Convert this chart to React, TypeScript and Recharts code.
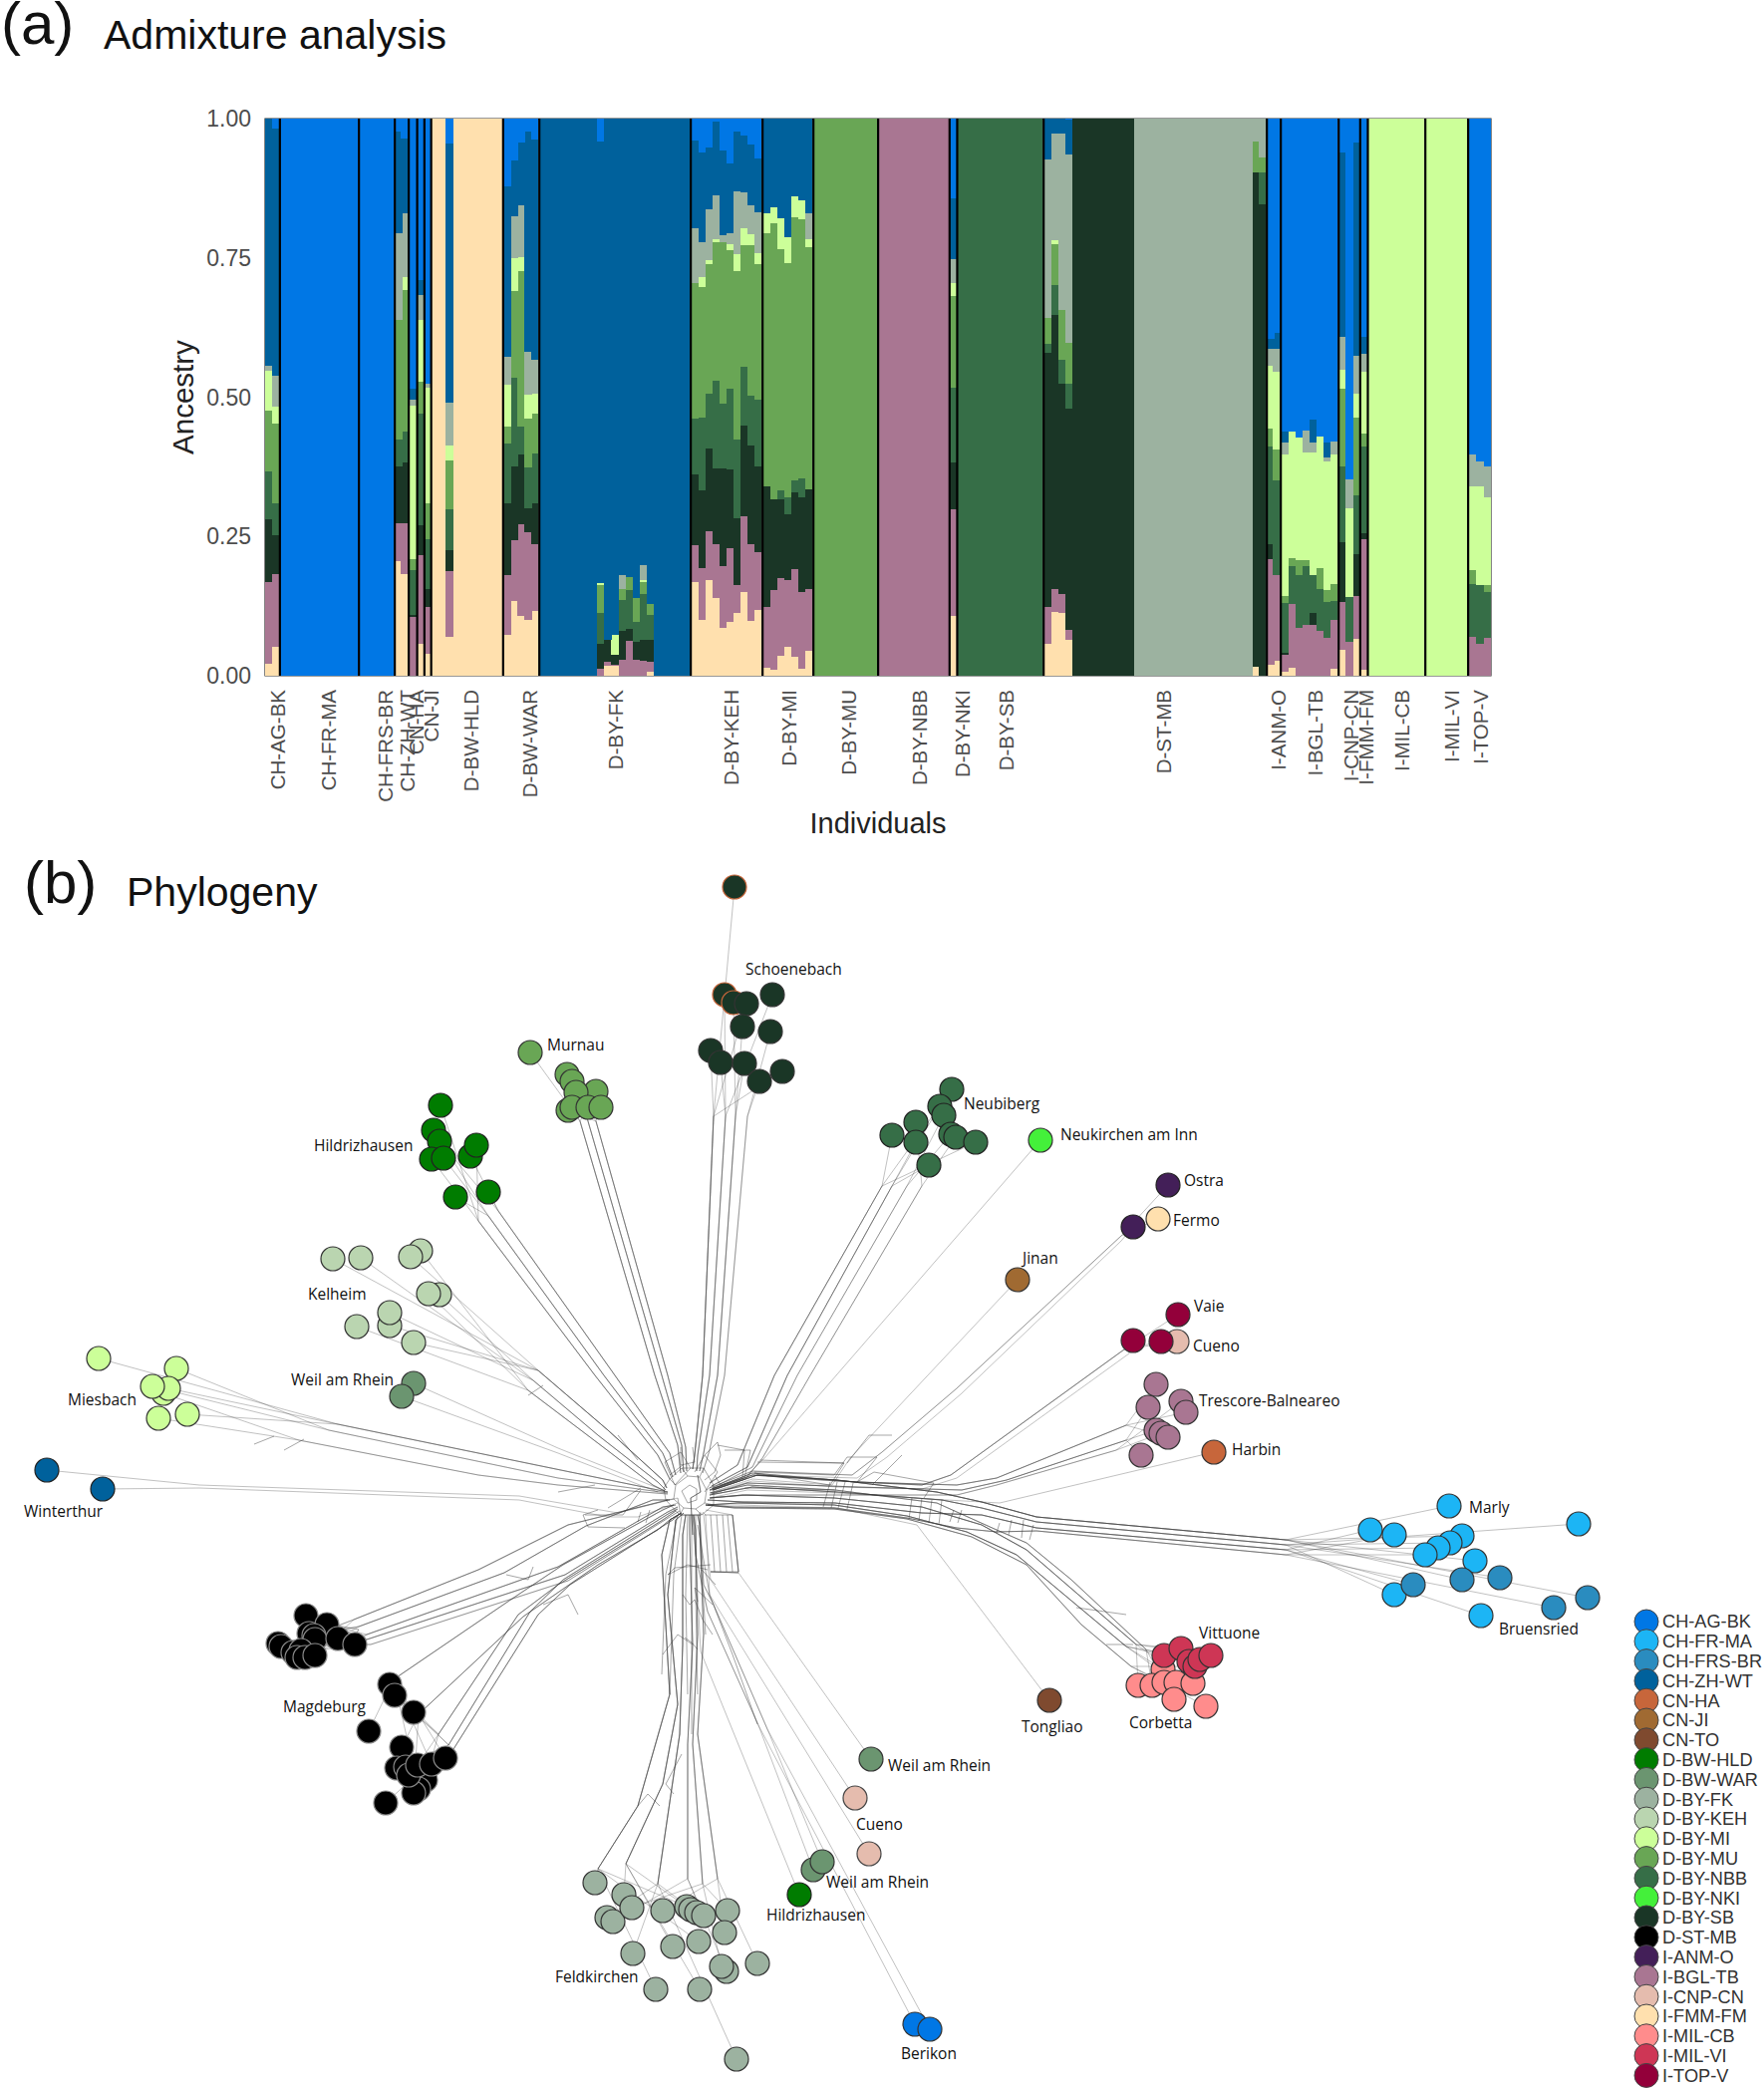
import React from "react";
import {
  Bar, BarChart, Legend, ReferenceArea, ReferenceLine, Scatter, ScatterChart, XAxis, YAxis,
} from "recharts";

// ---- (a) admixture -------------------------------------------------------
const clusterKeys = ["cream", "mauve", "sb", "nbb", "mu", "mi", "fk", "zh", "ag"];
const clusterColors = ["#FFE0AE", "#A97692", "#1A3626", "#366E47", "#69A655", "#CCFF99", "#9CB2A0", "#00619C", "#0077E5"];

// every row = top of each ancestry block, cream up to zh (ag fills what is left)
const onlyAg = [0, 0, 0, 0, 0, 0, 0, 0];
const onlyZh = [0, 0, 0, 0, 0, 0, 0, 1];
const onlyFk = [0, 0, 0, 0, 0, 0, 1, 1];
const onlyMi = [0, 0, 0, 0, 0, 1, 1, 1];
const onlyMu = [0, 0, 0, 0, 1, 1, 1, 1];
const onlyNbb = [0, 0, 0, 1, 1, 1, 1, 1];
const onlySb = [0, 0, 1, 1, 1, 1, 1, 1];
const onlyMauve = [0, 1, 1, 1, 1, 1, 1, 1];
const onlyCream = [1, 1, 1, 1, 1, 1, 1, 1];
const times = (row: number[], n: number) => Array.from({ length: n }, () => row);

const chAgBk = [
  [.021, .168, .281, .366, .476, .548, .556, 1],
  [.052, .183, .253, .309, .452, .483, .539, .983],
];
const chFrMa = times(onlyAg, 11);
const chFrsBr = times(onlyAg, 5);
const chZhWt = [
  [.205, .274, .375, .424, .639, .639, .795, .976],
  [.183, .274, .383, .438, .692, .716, .830, .964],
];
const cnHa = [[0, .105, .110, .189, .209, .485, .495, .515]];
const cnJi = [[.057, .216, .271, .471, .528, .639, .683, .710]];
const cnTo = [[.040, .123, .156, .245, .309, .517, .524, .524]];
const dBwHld = [
  onlyCream, onlyCream,
  [.070, .188, .225, .298, .387, .413, .491, .956],
  ...times(onlyCream, 7),
];
const dBwWar = [
  [.074, .181, .309, .416, .447, .522, .572, .878],
  [.134, .243, .375, .534, .690, .750, .825, .925],
  [.107, .272, .397, .447, .726, .751, .844, .957],
  [.101, .257, .301, .373, .461, .505, .582, .976],
  [.116, .236, .310, .399, .470, .507, .567, .962],
];
const dByFk = [
  ...times(onlyZh, 8),
  [0, .012, .058, .113, .163, .166, .166, .959],
  [.018, .025, .064, .064, .064, .064, .064, 1],
  [.018, .019, .038, .038, .038, .073, .073, 1],
  [0, .029, .081, .136, .156, .156, .180, 1],
  [0, .062, .084, .153, .177, .177, .177, 1],
  [0, .028, .060, .097, .139, .139, .139, 1],
  [0, .026, .064, .146, .168, .171, .198, 1],
  [.007, .025, .064, .110, .129, .129, .129, 1],
  ...times(onlyZh, 5),
];
const dByKeh = [
  [.168, .235, .361, .462, .704, .704, .804, .960],
  [.101, .194, .333, .464, .697, .716, .779, .940],
  [.171, .259, .407, .507, .739, .746, .837, .949],
  [.140, .236, .372, .529, .778, .784, .863, .995],
  [.086, .196, .372, .488, .778, .778, .791, .942],
  [.096, .229, .370, .515, .764, .775, .795, .919],
  [.112, .163, .283, .424, .726, .756, .869, .977],
  [.151, .286, .449, .554, .772, .803, .868, .969],
  [.099, .237, .413, .502, .772, .793, .844, .953],
  [.118, .221, .376, .495, .738, .758, .832, .929],
];
const dByMi = [
  [.014, .124, .339, .339, .794, .830, .830, 1],
  [.010, .153, .317, .317, .813, .841, .841, 1],
  [.036, .175, .317, .333, .765, .822, .822, 1],
  [.051, .171, .290, .320, .741, .788, .788, 1],
  [.034, .192, .329, .351, .823, .860, .860, 1],
  [.012, .151, .320, .355, .819, .854, .854, 1],
  [.045, .156, .334, .334, .769, .784, .830, 1],
];
const dByMu = times(onlyMu, 9);
const dByNbb = times(onlyMauve, 10);
const dByNki = [[.108, .298, .383, .517, .681, .704, .747, .856]];
const dBySb = times(onlyNbb, 12);
const dStMb = [
  [.058, .123, .580, .595, .642, .642, .926, 1],
  [.115, .156, .647, .702, .775, .781, .974, 1],
  [.112, .146, .524, .567, .657, .657, .974, 1],
  [.064, .083, .480, .524, .598, .598, .936, .998],
  ...times(onlySb, 9),
  ...times(onlyFk, 17),
  [.016, .016, .904, .904, .958, .958, 1, 1],
  [0, 0, .847, .904, .931, .931, 1, 1],
];
const iAnmO = [
  [.019, .209, .237, .411, .444, .556, .586, .604],
  [.027, .180, .180, .351, .406, .545, .586, .615],
];
const iBglTb = [
  [.007, .038, .042, .131, .144, .397, .418, .438],
  [.014, .129, .129, .197, .211, .438, .438, .438],
  [0, .086, .086, .181, .207, .428, .428, .428],
  [0, .091, .091, .197, .207, .401, .440, .440],
  [0, .091, .112, .181, .181, .401, .418, .459],
  [0, .081, .081, .155, .194, .430, .430, .430],
  [0, .068, .068, .132, .153, .384, .392, .419],
  [.012, .101, .101, .134, .164, .397, .420, .420],
];
const iCnpCn = [
  [.047, .133, .240, .375, .515, .550, .608, .940],
  [0, .060, .060, .141, .141, .301, .352, .352],
  [.067, .144, .219, .324, .464, .507, .575, .957],
];
const iFmmFm = [[.011, .245, .255, .411, .435, .545, .577, .609]];
const iMilCb = times(onlyMi, 8);
const iMilVi = times(onlyMi, 6);
const iTopV = [
  [0, .069, .069, .165, .190, .339, .398, .398],
  [0, .057, .057, .163, .163, .339, .385, .385],
  [0, .068, .068, .151, .163, .320, .376, .376],
];

const panels = [
  chAgBk, chFrMa, chFrsBr, chZhWt, cnHa, cnJi, cnTo, dBwHld, dBwWar, dByFk, dByKeh, dByMi,
  dByMu, dByNbb, dByNki, dBySb, dStMb, iAnmO, iBglTb, iCnpCn, iFmmFm, iMilCb, iMilVi, iTopV,
];
// where each facet begins on the x axis (the facets are not quite equal per individual)
const panelStarts = [0, 2.26, 13.65, 18.82, 20.83, 22.05, 23.09, 24.07, 34.44, 39.66, 61.49, 71.84, 79.17, 88.5, 98.8, 99.9, 112.36, 144.54, 146.55, 154.89, 158, 159.1, 167.39, 173.56];
const xMax = 176.72;
const panelGap = 0.25;

const axisLabels = [
  "CH-AG-BK", "CH-FR-MA", "CH-FRS-BR", "CH-ZH-WT", "CN-HA", "CN-JI", "D-BW-HLD", "D-BW-WAR", "D-BY-FK",
  "D-BY-KEH", "D-BY-MI", "D-BY-MU", "D-BY-NBB", "D-BY-NKI", "D-BY-SB", "D-ST-MB", "I-ANM-O", "I-BGL-TB",
  "I-CNP-CN", "I-FMM-FM", "I-MIL-CB", "I-MIL-VI", "I-TOP-V",
];
const axisLabelAt = [1.9, 9.2, 17.4, 20.5, 21.8, 23.9, 29.7, 38.2, 50.6, 67.2, 75.6, 84.1, 94.4, 100.6, 106.8, 129.6, 146.1, 151.4, 156.6, 158.8, 163.9, 171.1, 175.3];
const yTicks = [0, 0.25, 0.5, 0.75, 1];

const rows: any[] = [];
panels.forEach((panel, p) => {
  const end = p < panels.length - 1 ? panelStarts[p + 1] - panelGap : xMax;
  const step = (end - panelStarts[p]) / panel.length;
  panel.forEach((tops, i) => {
    const row: any = { x: panelStarts[p] + (i + 0.5) * step };
    let prev = 0;
    clusterKeys.forEach((key, k) => {
      const top = k < 8 ? tops[k] : 1;
      row[key] = Math.max(top - prev, 0);
      prev = Math.max(top, prev);
    });
    rows.push(row);
  });
});
const separators = panelStarts.slice(1).map((s) => s - panelGap / 2);

function PanelTick(props: any) {
  const { x, index } = props;
  return (
    <text x={x} y={692} dy="0.35em" textAnchor="end" fontSize={20.5} fill="#4d4d4d" transform={`rotate(-90 ${x} 692)`}>
      {axisLabels[index]}
    </text>
  );
}

// bars a little wider than their step, otherwise hairline seams show between them
function Block(props: any) {
  const { x, y, width, height, fill } = props;
  if (!height) return <g />;
  return <rect x={x + width / 2 - 3.7} y={y} width={7.4} height={height} fill={fill} shapeRendering="crispEdges" />;
}

function AdmixtureChart() {
  return (
    <BarChart
      width={1770}
      height={860}
      data={rows}
      barCategoryGap={0}
      margin={{ top: 119, right: 274, bottom: 17, left: 176 }}
    >
      <XAxis
        type="number"
        dataKey="x"
        domain={[0, xMax]}
        ticks={axisLabelAt}
        interval={0}
        tick={<PanelTick />}
        tickLine={false}
        axisLine={false}
        height={165}
        label={{ value: "Individuals", position: "insideBottom", offset: 7, fontSize: 29, fill: "#222" }}
      />
      <YAxis
        type="number"
        domain={[0, 1]}
        ticks={yTicks}
        width={90}
        tickFormatter={(v: number) => v.toFixed(2)}
        tick={{ fontSize: 23, fill: "#4d4d4d" }}
        tickSize={0}
        tickMargin={14}
        axisLine={false}
        tickLine={false}
        label={{ value: "Ancestry", angle: -90, position: "insideLeft", offset: 8, fontSize: 29.5, fill: "#222", style: { textAnchor: "middle" } }}
      />
      {clusterKeys.map((key, i) => (
        <Bar key={key} dataKey={key} stackId="q" fill={clusterColors[i]} barSize={6} shape={<Block />} isAnimationActive={false} />
      ))}
      {separators.map((x) => (
        <ReferenceLine key={x} x={x} stroke="#000" strokeWidth={2.2} />
      ))}
      <ReferenceArea x1={0} x2={xMax} y1={0} y2={1} fill="none" stroke="#333" strokeWidth={1.2} />
    </BarChart>
  );
}

// ---- (b) phylogeny network, coordinates in layout units -------------------
const tipsAgBk = [[918, 2031], [933, 2036]];
const tipsFrMa = [[1454, 1511], [1584, 1529], [1375, 1535], [1399, 1540], [1467, 1541], [1455, 1548], [1443, 1553], [1430, 1560], [1480, 1566], [1399, 1600], [1486, 1621]];
const tipsFrsBr = [[1467, 1585], [1505, 1583], [1418, 1590], [1559, 1613], [1593, 1603]];
const tipsZhWt = [[47, 1475], [103, 1494]];
const tipsHa = [[1218, 1457]];
const tipsJi = [[1021, 1284]];
const tipsTo = [[1053, 1706]];
const tipsHldNorth = [[442, 1109], [435, 1134], [441, 1145], [433, 1163], [445, 1162], [472, 1160], [478, 1149], [457, 1201], [490, 1196]];
const tipsHldSouth = [[802, 1901]];
const tipsWarNorth = [[415, 1388], [403, 1401]];
const tipsWarSouth = [[874, 1765], [816, 1876], [825, 1868]];
const tipsFk = [[597, 1889], [626, 1901], [609, 1924], [615, 1928], [634, 1914], [665, 1917], [689, 1913], [693, 1916], [699, 1919], [706, 1922], [730, 1917], [727, 1939], [701, 1948], [675, 1953], [635, 1960], [729, 1978], [724, 1973], [760, 1970], [658, 1996], [702, 1996], [739, 2066]];
const tipsKeh = [[334, 1263], [362, 1262], [422, 1255], [412, 1261], [441, 1299], [430, 1298], [391, 1330], [391, 1317], [358, 1331], [415, 1347]];
const tipsMi = [[99, 1363], [177, 1373], [164, 1398], [169, 1393], [153, 1391], [159, 1423], [188, 1419]];
const tipsMu = [[532, 1056], [569, 1078], [574, 1085], [598, 1095], [578, 1096], [570, 1114], [574, 1111], [590, 1111], [603, 1111]];
const tipsNbb = [[955, 1093], [943, 1110], [947, 1119], [919, 1126], [895, 1139], [919, 1146], [954, 1138], [959, 1141], [979, 1146], [932, 1169]];
const tipsNki = [[1044, 1144]];
const tipsSbHa = [[737, 890], [727, 998], [736, 1006]];
const tipsSb = [[749, 1007], [775, 998], [745, 1030], [773, 1035], [713, 1054], [723, 1066], [747, 1067], [762, 1085], [785, 1075]];
const tipsStWest = [[307, 1621], [328, 1630], [310, 1639], [315, 1641], [316, 1645], [339, 1644], [356, 1650], [279, 1649], [282, 1652], [294, 1658], [302, 1656], [298, 1663], [306, 1663], [316, 1661]];
const tipsStEast = [[391, 1690], [396, 1701], [415, 1718], [370, 1737], [403, 1753], [398, 1774], [407, 1773], [427, 1786], [420, 1795], [415, 1799], [387, 1809], [410, 1781], [419, 1771], [433, 1770], [447, 1764]];
const tipsAnm = [[1172, 1189], [1137, 1231]];
const tipsBgl = [[1160, 1389], [1152, 1412], [1185, 1406], [1190, 1417], [1160, 1435], [1165, 1438], [1172, 1442], [1145, 1460]];
const tipsCnpNorth = [[1181, 1346]];
const tipsCnpSouth = [[858, 1804], [872, 1860]];
const tipsFmm = [[1162, 1223]];
const tipsCb = [[1167, 1675], [1142, 1691], [1156, 1691], [1168, 1688], [1180, 1688], [1197, 1689], [1178, 1705], [1210, 1712]];
const tipsVi = [[1168, 1661], [1185, 1654], [1193, 1667], [1199, 1672], [1204, 1665], [1215, 1661]];
const tipsTop = [[1182, 1319], [1137, 1345], [1165, 1346]];

// branches run from near the tips back to the ring round the hub of the network
const stemsSb = [
  [[716, 1120], [705, 1380], [697, 1460], [695, 1474]],
  [[728, 1120], [712, 1380], [700, 1460], [699, 1476]],
  [[738, 1120], [720, 1380], [706, 1458], [702, 1476]],
  [[750, 1120], [727, 1380], [712, 1455], [705, 1478]],
];
const stemsMu = [
  [[582, 1125], [657, 1380], [680, 1450], [683, 1478]],
  [[590, 1125], [664, 1380], [684, 1450], [686, 1477]],
  [[598, 1125], [670, 1380], [688, 1452], [689, 1476]],
];
const stemsHld = [
  [[480, 1225], [597, 1380], [660, 1460], [672, 1484]],
  [[490, 1220], [606, 1380], [665, 1458], [675, 1482]],
  [[500, 1215], [617, 1380], [672, 1458], [678, 1480]],
];
const stemsKeh = [
  [[540, 1375], [610, 1435], [665, 1485], [669, 1493]],
  [[535, 1385], [600, 1440], [660, 1487], [668, 1495]],
  [[530, 1395], [600, 1448], [655, 1490], [667, 1496]],
];
const stemsWarNorth = [
  [[560, 1453], [670, 1497]],
  [[560, 1458], [660, 1497]],
];
const stemsMi = [
  [[339, 1429], [587, 1480], [670, 1497]],
  [[330, 1435], [560, 1483], [670, 1498]],
  [[300, 1445], [480, 1480], [560, 1490], [670, 1499]],
];
const stemsZh = [
  [[200, 1490], [521, 1501], [620, 1518], [680, 1503]],
  [[200, 1493], [521, 1505], [610, 1522], [640, 1522], [680, 1508]],
];
const stemsStWest = [
  [[368, 1645], [567, 1580], [670, 1517], [680, 1512]],
  [[368, 1640], [560, 1572], [665, 1512], [678, 1510]],
  [[360, 1632], [506, 1578], [588, 1531], [655, 1505], [672, 1505]],
  [[355, 1625], [480, 1575], [570, 1530], [650, 1510], [670, 1505]],
  [[372, 1650], [570, 1586], [672, 1522], [682, 1516]],
];
const stemsStEast = [
  [[450, 1751], [532, 1617], [565, 1585], [672, 1518], [680, 1514]],
  [[455, 1755], [540, 1620], [572, 1590], [675, 1525], [683, 1518]],
  [[440, 1740], [520, 1620], [560, 1590], [665, 1525], [678, 1516]],
  [[395, 1685], [511, 1606], [565, 1570], [665, 1515], [676, 1510]],
  [[420, 1720], [525, 1622], [600, 1570], [660, 1535], [672, 1525], [682, 1519]],
];
const stemsFk = [
  [[600, 1875], [640, 1812], [672, 1700], [664, 1560], [672, 1525], [684, 1518]],
  [[628, 1870], [665, 1790], [680, 1710], [670, 1600], [678, 1525], [686, 1518]],
  [[660, 1890], [682, 1740], [685, 1650], [685, 1540], [688, 1520]],
  [[690, 1885], [690, 1750], [695, 1650], [692, 1540], [692, 1520]],
  [[705, 1890], [695, 1750], [700, 1640], [698, 1535], [696, 1520]],
  [[720, 1885], [700, 1740], [706, 1640], [702, 1530], [700, 1520]],
];
const stemsSouthEast = [
  [[761, 1731], [710, 1617], [698, 1560], [695, 1520]],
  [[770, 1735], [716, 1610], [706, 1590], [702, 1518]],
];
const stemsWarSouth = [[[741, 1578], [735, 1520], [708, 1515]]];
const stemsCnpSouth = [[[713, 1585], [706, 1520], [702, 1517]], [[712, 1600], [708, 1520], [705, 1517]]];
const stemsHldSouth = [[[703, 1657], [696, 1520]]];
const stemsFr = [
  [[1290, 1545], [1040, 1522], [985, 1507], [940, 1497], [840, 1485], [760, 1480], [715, 1495]],
  [[1290, 1550], [1040, 1527], [985, 1513], [945, 1505], [840, 1497], [755, 1492], [712, 1500]],
  [[1290, 1555], [1040, 1533], [985, 1520], [925, 1518], [838, 1508], [745, 1507], [710, 1505]],
  [[1290, 1560], [1040, 1536], [1000, 1537], [960, 1533], [910, 1523], [837, 1513], [737, 1512], [708, 1510]],
];
const stemsMil = [
  [[1130, 1652], [1020, 1560], [970, 1537], [910, 1521], [837, 1510], [740, 1508], [710, 1510]],
  [[1140, 1650], [1030, 1555], [985, 1530], [925, 1512], [837, 1503], [745, 1500], [712, 1503]],
  [[1150, 1655], [1075, 1585], [1030, 1548], [1000, 1535], [940, 1508], [838, 1495], [750, 1490], [713, 1498]],
  [[1135, 1672], [1085, 1630], [1030, 1570], [975, 1542], [910, 1524], [837, 1514], [737, 1513], [708, 1510]],
];
const stemsBgl = [
  [[1130, 1430], [1000, 1483], [960, 1490], [860, 1487], [755, 1478], [714, 1494]],
  [[1130, 1445], [1010, 1485], [965, 1495], [860, 1492], [750, 1488], [714, 1499]],
  [[1120, 1455], [1000, 1490], [960, 1500], [850, 1500], [750, 1500], [713, 1503]],
];
const stemsAnm = [
  [[1125, 1240], [960, 1393], [885, 1457], [855, 1480], [755, 1476], [712, 1493]],
  [[1125, 1245], [965, 1398], [890, 1462], [860, 1483], [755, 1480], [712, 1496]],
];
const stemsTop = [
  [[1128, 1354], [954, 1480], [925, 1490], [840, 1486], [755, 1480], [712, 1495]],
  [[1133, 1358], [960, 1483], [925, 1494], [840, 1492], [755, 1486], [712, 1498]],
];
const stemsJi = [[[853, 1463], [835, 1490], [755, 1484], [712, 1498]]];
const stemsNki = [[[767, 1463], [750, 1480], [712, 1495]]];
const stemsHa = [[[1003, 1508], [950, 1505], [840, 1498], [750, 1495], [712, 1503]]];
const stemsTo = [[[920, 1530], [840, 1513], [740, 1510], [708, 1510]]];
const stemsNbb = [
  [[885, 1190], [777, 1380], [740, 1470], [712, 1488]],
  [[895, 1190], [790, 1380], [750, 1472], [714, 1491]],
  [[910, 1190], [800, 1380], [755, 1472], [715, 1493]],
  [[925, 1190], [813, 1380], [765, 1463], [748, 1484], [716, 1495]],
];

// cross links of the split network
const webLinks = [
  // rings round the hub
  [[672, 1484], [684, 1473], [706, 1473], [716, 1490], [716, 1510], [704, 1520], [682, 1520], [668, 1505], [666, 1493], [672, 1484]],
  [[678, 1490], [690, 1481], [702, 1482], [709, 1495], [707, 1508], [698, 1514], [686, 1513], [676, 1504], [678, 1490]],
  [[684, 1496], [692, 1490], [699, 1494], [699, 1505], [690, 1508], [684, 1496]],
  [[672, 1484], [678, 1490]], [[684, 1473], [690, 1481]], [[706, 1473], [702, 1482]], [[716, 1490], [709, 1495]],
  [[716, 1510], [707, 1508]], [[704, 1520], [698, 1514]], [[682, 1520], [686, 1513]], [[668, 1505], [676, 1504]],
  [[700, 1480], [703, 1497], [693, 1503], [695, 1540]],
  [[700, 1480], [703, 1497], [693, 1503], [695, 1540]],
  // boxes above the hub
  [[683, 1452], [683, 1470], [697, 1467], [695, 1452]],
  [[707, 1460], [720, 1447], [723, 1460], [717, 1477], [707, 1485]],
  [[727, 1455], [753, 1455], [747, 1483], [717, 1493]],
  [[763, 1465], [847, 1468]], [[757, 1477], [837, 1480]], [[747, 1493], [837, 1495]],
  [[667, 1467], [683, 1457], [693, 1473], [677, 1490], [667, 1467]],
  [[672, 1480], [685, 1470]],
  [[697, 1477], [707, 1460], [720, 1477], [707, 1497]],
  [[720, 1450], [747, 1455], [745, 1483], [723, 1490], [717, 1480]],
  [[760, 1467], [847, 1468], [833, 1490], [757, 1478]],
  [[837, 1480], [850, 1462], [880, 1462], [860, 1487]],
  [[860, 1487], [877, 1477], [937, 1488], [927, 1503]],
  // block under the hub
  [[707, 1520], [735, 1520], [741, 1577], [713, 1577]],
  [[713, 1520], [717, 1577]], [[719, 1520], [723, 1577]], [[725, 1520], [729, 1577]], [[730, 1520], [735, 1577]],
  [[713, 1577], [741, 1578]], [[713, 1577], [741, 1578]], [[735, 1520], [741, 1577]],
  [[680, 1503], [683, 1520], [703, 1520]],
  // ladders on the arc to the right
  [[833, 1487], [826, 1512]], [[840, 1487], [834, 1513]], [[848, 1487], [841, 1513]], [[856, 1488], [850, 1514]],
  [[915, 1503], [912, 1524]], [[925, 1503], [922, 1526]], [[935, 1505], [932, 1528]], [[945, 1505], [942, 1530]],
  [[957, 1515], [953, 1527]], [[965, 1515], [961, 1528]],
  [[1003, 1528], [1000, 1538]], [[1015, 1525], [1012, 1540]], [[1027, 1525], [1025, 1543]], [[1037, 1530], [1033, 1545]],
  [[1110, 1650], [1137, 1650]], [[1080, 1613], [1130, 1620]],
  [[850, 1468], [872, 1440], [895, 1440]], [[875, 1490], [905, 1460]],
  // left side
  [[560, 1497], [597, 1490]], [[585, 1520], [600, 1515]], [[610, 1513], [643, 1493]],
  [[587, 1520], [625, 1520], [643, 1495]], [[585, 1520], [590, 1532], [627, 1533]],
  [[643, 1517], [640, 1527]], [[652, 1515], [648, 1528]],
  [[620, 1440], [640, 1465]], [[530, 1400], [545, 1390]], [[255, 1449], [275, 1441]], [[285, 1455], [305, 1444]],
  [[322, 1628], [360, 1635], [350, 1650]],
  [[508, 1580], [530, 1585], [535, 1572]], [[545, 1610], [570, 1600], [580, 1620]],
  // strands going down
  [[680, 1520], [668, 1580], [664, 1680]], [[684, 1520], [676, 1580], [672, 1700]],
  [[690, 1520], [688, 1600], [690, 1700]], [[694, 1520], [694, 1620], [694, 1740]],
  [[698, 1520], [698, 1600], [700, 1700]], [[702, 1520], [704, 1575], [708, 1640]], [[704, 1575], [718, 1590]],
  [[670, 1580], [677, 1573], [713, 1570]],
  [[670, 1580], [690, 1570], [710, 1575]],
  [[665, 1660], [680, 1640], [695, 1650]],
  [[685, 1600], [692, 1610], [697, 1605], [705, 1625], [715, 1640]],
  [[715, 1610], [697, 1593], [700, 1607]], [[687, 1643], [694, 1648], [700, 1655]],
  [[700, 1530], [712, 1600], [735, 1660], [760, 1730]],
  [[676, 1800], [668, 1790], [684, 1760]], [[640, 1812], [650, 1800], [662, 1812]],
];

const populations = [
  { tips: tipsSbHa, stems: stemsSb, fill: "#1A3626", stroke: "#C7663B" },
  { tips: tipsSb, stems: stemsSb, fill: "#1A3626", stroke: "#333" },
  { tips: tipsMu, stems: stemsMu, fill: "#69A655", stroke: "#333" },
  { tips: tipsHldNorth, stems: stemsHld, fill: "#007C00", stroke: "#222" },
  { tips: tipsKeh, stems: stemsKeh, fill: "#BAD5B0", stroke: "#333" },
  { tips: tipsWarNorth, stems: stemsWarNorth, fill: "#6B9570", stroke: "#333" },
  { tips: tipsMi, stems: stemsMi, fill: "#CCFF99", stroke: "#333" },
  { tips: tipsZhWt, stems: stemsZh, fill: "#00619C", stroke: "#222" },
  { tips: tipsStWest, stems: stemsStWest, fill: "#000000", stroke: "#8a8a8a" },
  { tips: tipsStEast, stems: stemsStEast, fill: "#000000", stroke: "#8a8a8a" },
  { tips: tipsFk, stems: stemsFk, fill: "#9CB2A0", stroke: "#333" },
  { tips: tipsAgBk, stems: stemsSouthEast, fill: "#0077E5", stroke: "#333" },
  { tips: tipsWarSouth, stems: stemsWarSouth.concat(stemsSouthEast), fill: "#6B9570", stroke: "#333" },
  { tips: tipsCnpSouth, stems: stemsCnpSouth, fill: "#E5BCAE", stroke: "#444" },
  { tips: tipsHldSouth, stems: stemsHldSouth, fill: "#007C00", stroke: "#222" },
  { tips: tipsFrMa, stems: stemsFr, fill: "#1CB5F5", stroke: "#333" },
  { tips: tipsFrsBr, stems: stemsFr, fill: "#2A8CBF", stroke: "#333" },
  { tips: tipsCb, stems: stemsMil, fill: "#FF8C8C", stroke: "#333" },
  { tips: tipsVi, stems: stemsMil, fill: "#CE3655", stroke: "#333" },
  { tips: tipsBgl, stems: stemsBgl, fill: "#A97692", stroke: "#333" },
  { tips: tipsAnm, stems: stemsAnm, fill: "#431F58", stroke: "#222" },
  { tips: tipsFmm, stems: stemsAnm, fill: "#FFE0AE", stroke: "#333" },
  { tips: tipsCnpNorth, stems: stemsTop, fill: "#E5BCAE", stroke: "#444" },
  { tips: tipsTop, stems: stemsTop, fill: "#93003A", stroke: "#333" },
  { tips: tipsJi, stems: stemsJi, fill: "#A06A32", stroke: "#333" },
  { tips: tipsNki, stems: stemsNki, fill: "#44F03A", stroke: "#333" },
  { tips: tipsHa, stems: stemsHa, fill: "#C7663B", stroke: "#333" },
  { tips: tipsTo, stems: stemsTo, fill: "#7F4A2F", stroke: "#333" },
  { tips: tipsNbb, stems: stemsNbb, fill: "#366E47", stroke: "#222" },
];

const siteNames = ["Schoenebach", "Murnau", "Hildrizhausen", "Kelheim", "Weil am Rhein", "Miesbach", "Winterthur", "Neubiberg", "Neukirchen am Inn", "Ostra", "Fermo", "Jinan", "Vaie", "Cueno", "Trescore-Balneareo", "Harbin", "Marly", "Bruensried", "Vittuone", "Corbetta", "Tongliao", "Magdeburg", "Weil am Rhein", "Cueno", "Weil am Rhein", "Hildrizhausen", "Feldkirchen", "Berikon"];
const siteSpots = [[748, 973], [549, 1049], [315, 1150], [309, 1299], [292, 1385], [68, 1405], [24, 1517], [967, 1108], [1064, 1139], [1188, 1185], [1177, 1225], [1026, 1263], [1198, 1311], [1197, 1351], [1203, 1406], [1236, 1455], [1474, 1513], [1504, 1635], [1203, 1639], [1133, 1729], [1025, 1733], [284, 1713], [891, 1772], [859, 1831], [829, 1889], [769, 1922], [557, 1984], [904, 2061]];

const legendNames = ["CH-AG-BK", "CH-FR-MA", "CH-FRS-BR", "CH-ZH-WT", "CN-HA", "CN-JI", "CN-TO", "D-BW-HLD", "D-BW-WAR", "D-BY-FK", "D-BY-KEH", "D-BY-MI", "D-BY-MU", "D-BY-NBB", "D-BY-NKI", "D-BY-SB", "D-ST-MB", "I-ANM-O", "I-BGL-TB", "I-CNP-CN", "I-FMM-FM", "I-MIL-CB", "I-MIL-VI", "I-TOP-V"];
const legendColors = ["#0077E5", "#1CB5F5", "#2A8CBF", "#00619C", "#C7663B", "#A06A32", "#7F4A2F", "#007C00", "#6B9570", "#9CB2A0", "#BAD5B0", "#CCFF99", "#69A655", "#366E47", "#44F03A", "#1A3626", "#000000", "#431F58", "#A97692", "#E5BCAE", "#FFE0AE", "#FF8C8C", "#CE3655", "#93003A"];

const toPoints = (list: number[][]) => list.map(([x, y]) => ({ x, y }));
const noDot = () => <g />;
const branches = populations.flatMap((pop) =>
  pop.tips.map((tip, i) => toPoints([tip, ...pop.stems[i % pop.stems.length]]))
);
const sitePoints = siteSpots.map(([x, y], i) => ({ x, y, name: siteNames[i] }));

function SiteLabel(props: any) {
  return (
    <text x={props.cx} y={props.cy} dy="0.35em" fontFamily="'Open Sans'" fontSize={15.5} fill="#111">
      {props.payload.name}
    </text>
  );
}

function LegendList() {
  return (
    <svg width={130} height={490} style={{ display: "block", overflow: "visible" }}>
      {legendNames.map((name, i) => (
        <g key={name}>
          <circle cx={14} cy={14 + i * 19.8} r={12} fill={legendColors[i]} stroke="#444" strokeWidth={1} />
          <text x={30} y={14 + i * 19.8} dy="0.35em" fontSize={18.2} fill="#333" fontFamily="'Liberation Sans'">{name}</text>
        </g>
      ))}
    </svg>
  );
}

function NetworkChart() {
  return (
    <ScatterChart width={1770} height={1236} margin={{ top: 0, right: 0, bottom: 0, left: 0 }}>
      <XAxis type="number" dataKey="x" domain={[0, 1770]} hide />
      <YAxis type="number" dataKey="y" domain={[860, 2096]} reversed hide />
      {branches.map((pts, i) => (
        <Scatter key={`b${i}`} data={pts} line={{ stroke: "#333", strokeWidth: 1, strokeOpacity: 0.3 }} shape={noDot} isAnimationActive={false} />
      ))}
      {webLinks.map((link, i) => (
        <Scatter key={`w${i}`} data={toPoints(link)} line={{ stroke: "#333", strokeWidth: 0.8, strokeOpacity: 0.55 }} shape={noDot} isAnimationActive={false} />
      ))}
      {populations.map((pop, i) => (
        <Scatter
          key={`p${i}`}
          data={toPoints(pop.tips)}
          isAnimationActive={false}
          shape={(p: any) => <circle cx={p.cx} cy={p.cy} r={12} fill={pop.fill} stroke={pop.stroke} strokeWidth={1.2} />}
        />
      ))}
      <Scatter data={sitePoints} shape={<SiteLabel />} isAnimationActive={false} />
      <Legend
        layout="vertical"
        align="center"
        verticalAlign="middle"
        content={<LegendList />}
        wrapperStyle={{ left: 1638, top: 753, width: 130, height: 490 }}
      />
    </ScatterChart>
  );
}

const heading: React.CSSProperties = { position: "absolute", color: "#111", whiteSpace: "nowrap" };

export default function App() {
  return (
    <div style={{ position: "absolute", left: 0, top: 0, width: 1770, height: 2096, background: "#fff", overflow: "hidden", fontFamily: "'Liberation Sans', Arial, sans-serif" }}>
      <div style={{ position: "absolute", left: 0, top: 0 }}><AdmixtureChart /></div>
      <div style={{ position: "absolute", left: 0, top: 860 }}><NetworkChart /></div>
      <div style={{ ...heading, left: 1, top: 0, fontSize: 60, lineHeight: 0.8 }}>(a)</div>
      <div style={{ ...heading, left: 104, top: 15, fontSize: 41, lineHeight: 1 }}>Admixture analysis</div>
      <div style={{ ...heading, left: 24, top: 862, fontSize: 60, lineHeight: 0.8 }}>(b)</div>
      <div style={{ ...heading, left: 127, top: 875, fontSize: 41, lineHeight: 1 }}>Phylogeny</div>
    </div>
  );
}
